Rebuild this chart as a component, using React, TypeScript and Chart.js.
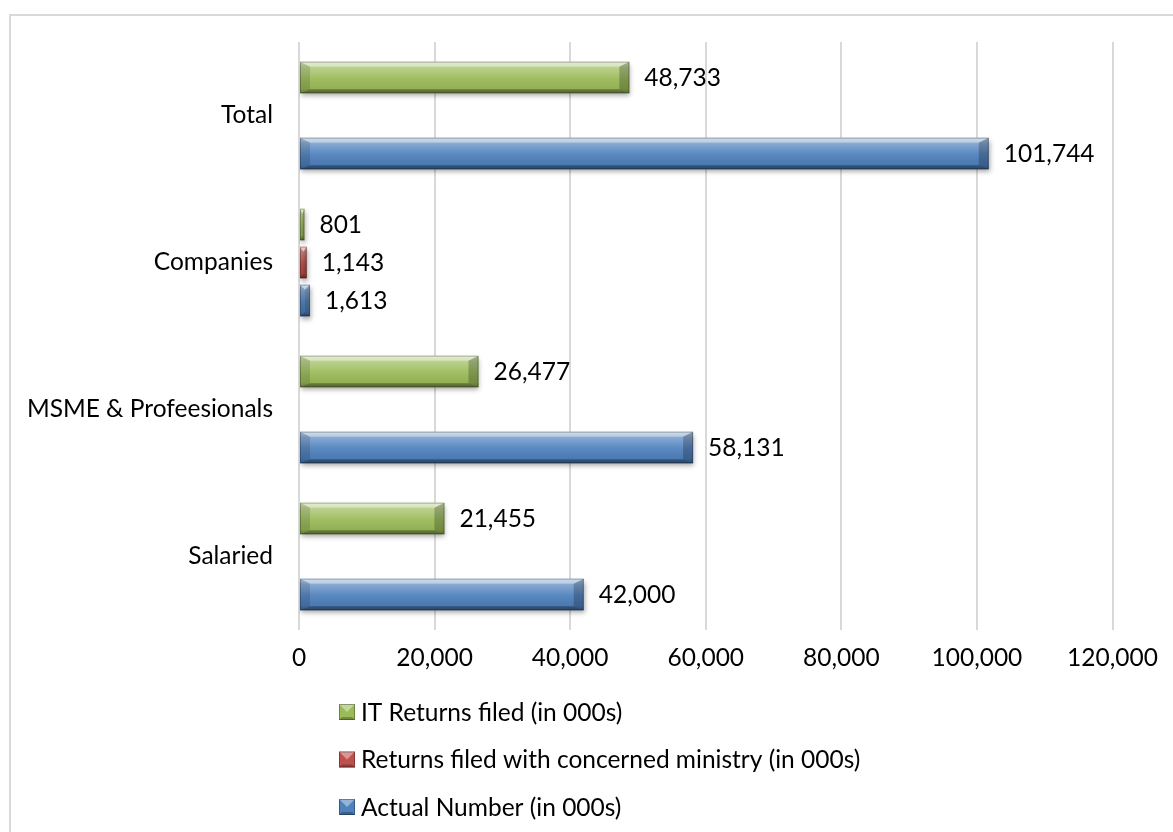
import React, { useEffect, useRef } from "react";
import { Chart, registerables } from "chart.js";

Chart.register(...registerables);

const categories = ["Total", "Companies", "MSME & Profeesionals", "Salaried"];
const itReturnsFiled = [48733, 801, 26477, 21455];
const ministryReturns = [null, 1143, null, null];
const actualNumber = [101744, 1613, 58131, 42000];
const seriesNames = [
  "IT Returns filed (in 000s)",
  "Returns filed with concerned ministry (in 000s)",
  "Actual Number (in 000s)",
];
const seriesColors = ["#9bbb59", "#c0504d", "#4f81bd"];
const xMin = 0;
const xMax = 120000;
const xStep = 20000;

const FONT = "Lato, 'Open Sans', sans-serif";
const FONT_SIZE = 24.5;

const fmt = (v: number) => Number(v).toLocaleString("en-US");

function drawBevel(ctx: CanvasRenderingContext2D, x0: number, x1: number, t: number, b: number) {
  const w = x1 - x0;
  const h = b - t;
  if (w <= 0 || h <= 0) return;
  const g = ctx.createLinearGradient(0, t, 0, b);
  g.addColorStop(0, "rgba(255,255,255,0.6)");
  g.addColorStop(0.18, "rgba(255,255,255,0.32)");
  g.addColorStop(0.5, "rgba(255,255,255,0.08)");
  g.addColorStop(0.85, "rgba(0,0,0,0.05)");
  g.addColorStop(1, "rgba(0,0,0,0.25)");
  ctx.fillStyle = g;
  ctx.fillRect(x0, t, w, h);

  const ds = Math.min(10, w / 2);
  const dt = Math.min(5, h / 3);
  const db = Math.min(4, h / 3);
  ctx.beginPath();
  ctx.moveTo(x0, t);
  ctx.lineTo(x1, t);
  ctx.lineTo(x1 - ds, t + dt);
  ctx.lineTo(x0 + ds, t + dt);
  ctx.closePath();
  ctx.fillStyle = "rgba(255,255,255,0.35)";
  ctx.fill();
  ctx.beginPath();
  ctx.moveTo(x0, b);
  ctx.lineTo(x1, b);
  ctx.lineTo(x1 - ds, b - db);
  ctx.lineTo(x0 + ds, b - db);
  ctx.closePath();
  ctx.fillStyle = "rgba(0,0,0,0.28)";
  ctx.fill();
  ctx.beginPath();
  ctx.moveTo(x0, t);
  ctx.lineTo(x0 + ds, t + dt);
  ctx.lineTo(x0 + ds, b - db);
  ctx.lineTo(x0, b);
  ctx.closePath();
  ctx.fillStyle = "rgba(0,0,0,0.12)";
  ctx.fill();
  ctx.beginPath();
  ctx.moveTo(x1, t);
  ctx.lineTo(x1 - ds, t + dt);
  ctx.lineTo(x1 - ds, b - db);
  ctx.lineTo(x1, b);
  ctx.closePath();
  ctx.fillStyle = "rgba(0,0,0,0.22)";
  ctx.fill();
  ctx.strokeStyle = "rgba(0,0,0,0.25)";
  ctx.lineWidth = 1;
  ctx.strokeRect(x0 + 0.5, t + 0.5, Math.max(0, w - 1), Math.max(0, h - 1));
}

const barStylePlugin = {
  id: "barStyle",
  beforeDatasetsDraw(chart: any) {
    const ctx = chart.ctx;
    ctx.save();
    ctx.shadowColor = "rgba(0,0,0,0.35)";
    ctx.shadowBlur = 5;
    ctx.shadowOffsetX = 1;
    ctx.shadowOffsetY = 3;
  },
  afterDatasetsDraw(chart: any) {
    const ctx = chart.ctx;
    ctx.restore();
    ctx.save();
    chart.data.datasets.forEach((ds: any, di: number) => {
      const meta = chart.getDatasetMeta(di);
      meta.data.forEach((bar: any, i: number) => {
        const v = ds.data[i];
        if (v === null || v === undefined) return;
        const { x, y, base, height } = bar.getProps(["x", "y", "base", "height"], true);
        const x0 = Math.min(base, x);
        const x1 = Math.max(base, x);
        drawBevel(ctx, x0, x1, y - height / 2, y + height / 2);
      });
    });
    ctx.fillStyle = "#000";
    ctx.font = `${FONT_SIZE}px ${FONT}`;
    ctx.textAlign = "left";
    ctx.textBaseline = "middle";
    chart.data.datasets.forEach((ds: any, di: number) => {
      const meta = chart.getDatasetMeta(di);
      meta.data.forEach((bar: any, i: number) => {
        const v = ds.data[i];
        if (v === null || v === undefined) return;
        const { x, y } = bar.getProps(["x", "y"], true);
        ctx.fillText(fmt(v), x + 15, y + 1);
      });
    });
    ctx.restore();
  },
};

const legendPlugin = {
  id: "vLegend",
  afterDraw(chart: any) {
    const ctx = chart.ctx;
    const area = chart.chartArea;
    ctx.save();
    ctx.font = `${FONT_SIZE}px ${FONT}`;
    ctx.textAlign = "left";
    ctx.textBaseline = "middle";
    chart.data.datasets.forEach((ds: any, i: number) => {
      const cy = area.bottom + 82 + i * 47.5;
      const bx = 339;
      const size = 16;
      ctx.fillStyle = ds.backgroundColor;
      ctx.fillRect(bx, cy - size / 2, size, size);
      const t = cy - size / 2;
      const b = cy + size / 2;
      ctx.beginPath();
      ctx.moveTo(bx, t);
      ctx.lineTo(bx + size, t);
      ctx.lineTo(bx + size / 2, cy);
      ctx.closePath();
      ctx.fillStyle = "rgba(255,255,255,0.4)";
      ctx.fill();
      ctx.beginPath();
      ctx.moveTo(bx, b);
      ctx.lineTo(bx + size, b);
      ctx.lineTo(bx + size - 3, b - 3);
      ctx.lineTo(bx + 3, b - 3);
      ctx.closePath();
      ctx.fillStyle = "rgba(0,0,0,0.25)";
      ctx.fill();
      ctx.strokeStyle = "rgba(0,0,0,0.3)";
      ctx.lineWidth = 1;
      ctx.strokeRect(bx + 0.5, t + 0.5, size - 1, size - 1);
      ctx.fillStyle = "#000";
      ctx.fillText(ds.label, 361, cy + 1);
    });
    ctx.restore();
  },
};

export default function App() {
  const canvasRef = useRef<HTMLCanvasElement | null>(null);

  useEffect(() => {
    if (!canvasRef.current) return;
    const chart = new Chart(canvasRef.current, {
      type: "bar",
      data: {
        labels: categories,
        datasets: [
          { label: seriesNames[0], data: itReturnsFiled, backgroundColor: seriesColors[0] },
          { label: seriesNames[1], data: ministryReturns, backgroundColor: seriesColors[1] },
          { label: seriesNames[2], data: actualNumber, backgroundColor: seriesColors[2] },
        ],
      },
      options: {
        indexAxis: "y",
        responsive: false,
        animation: false,
        devicePixelRatio: 1,
        categoryPercentage: 0.776,
        barPercentage: 0.83,
        layout: { padding: { left: 0, right: 60.5, top: 42, bottom: 142 } },
        plugins: {
          legend: { display: false },
          tooltip: { enabled: false },
        },
        scales: {
          x: {
            min: xMin,
            max: xMax,
            ticks: {
              stepSize: xStep,
              color: "#000",
              font: { family: FONT, size: FONT_SIZE },
              padding: 13,
              callback: (v: any) => fmt(v),
            },
            grid: { color: "#d9d9d9", lineWidth: 2, drawTicks: false },
            border: { display: false },
            afterFit: (scale: any) => {
              scale.height = 60;
            },
          },
          y: {
            ticks: {
              color: "#000",
              font: { family: FONT, size: FONT_SIZE },
              padding: 26,
            },
            grid: { display: false, drawTicks: false },
            border: { display: false },
            afterFit: (scale: any) => {
              scale.width = 299;
            },
          },
        },
      },
      plugins: [barStylePlugin, legendPlugin],
    } as any);
    return () => chart.destroy();
  }, []);

  return (
    <div style={{ position: "fixed", left: 0, top: 0, width: 1173, height: 832, overflow: "hidden", background: "#fff" }}>
      <div
        style={{
          position: "absolute",
          left: 9,
          top: 14,
          width: 1200,
          height: 850,
          border: "2px solid #d9d9d9",
          boxSizing: "border-box",
        }}
      />
      <canvas
        ref={canvasRef}
        width={1173}
        height={832}
        style={{ position: "absolute", left: 0, top: 0, width: 1173, height: 832, display: "block" }}
      />
    </div>
  );
}
